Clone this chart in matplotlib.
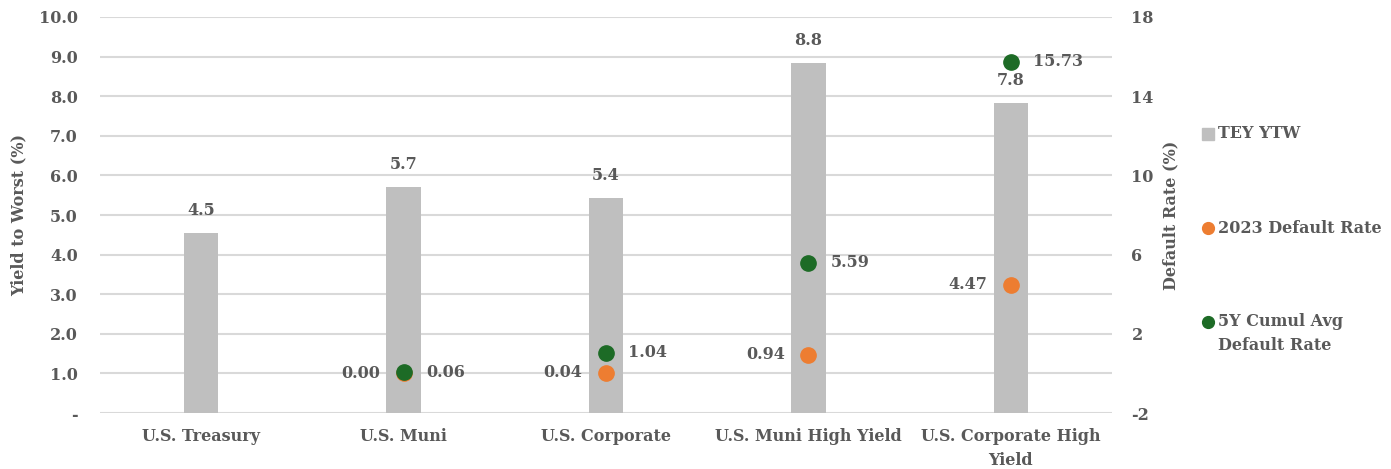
import numpy as np
import matplotlib.pyplot as plt
from matplotlib.lines import Line2D

# Data
categories = ['U.S. Treasury', 'U.S. Muni', 'U.S. Corporate', 'U.S. Muni High Yield', 'U.S. Corporate High\nYield']
tey_ytw = [4.54, 5.71, 5.43, 8.84, 7.84]
default_2023 = [np.nan, 0.00, 0.04, 0.94, 4.47]
default_5y = [np.nan, 0.06, 1.04, 5.59, 15.73]
legend_labels = ['TEY YTW', '2023 Default Rate', '5Y Cumul Avg\nDefault Rate']

GREY_TXT = '#595959'
BAR = '#bfbfbf'
ORANGE = '#ed7d31'
GREEN = '#1d6b26'
GRID = '#d9d9d9'
FS = 11.5

plt.rcParams['font.family'] = 'DejaVu Serif'
plt.rcParams['font.weight'] = 'bold'

W, H = 1391, 469
fig = plt.figure(figsize=(W / 100, H / 100), dpi=100)
ax = fig.add_axes([100 / W, 1 - 413 / H, 1012 / W, 396 / H])
ax2 = ax.twinx()

x = np.arange(len(categories))
ax.bar(x, tey_ytw, width=0.17, color=BAR, zorder=2)
for xi, v in zip(x, tey_ytw):
    ax.annotate(f'{v:.1f}', (xi, v), xytext=(0, 10), textcoords='offset points',
                ha='center', va='bottom', fontsize=FS, fontweight='bold', color=GREY_TXT)

ax.set_ylim(0, 10)
ax.set_xlim(-0.5, len(categories) - 0.5)
ax.set_yticks(np.arange(0, 11, 1))
ax.set_yticklabels(['-'] + [f'{v:.1f}' for v in np.arange(1, 11, 1)])
ax.grid(axis='y', color=GRID, lw=1.5, zorder=0)
ax.set_axisbelow(True)
ax.set_xticks(x)
ax.set_xticklabels(categories, linespacing=1.55)
ax.tick_params(length=0, labelsize=FS, labelcolor=GREY_TXT)
ax.tick_params(axis='x', pad=11)
ax.tick_params(axis='y', pad=16)
ax.set_ylabel('Yield to Worst (%)', fontsize=FS, fontweight='bold', color=GREY_TXT, labelpad=8)
for s in ax.spines.values():
    s.set_visible(False)

ax2.set_ylim(-2, 18)
ax2.set_yticks([-2, 2, 6, 10, 14, 18])
ax2.set_yticklabels(['-2', '2', '6', '10', '14', '18'])
ax2.tick_params(length=0, labelsize=FS, labelcolor=GREY_TXT, pad=14)
ax2.set_ylabel('Default Rate (%)', fontsize=FS, fontweight='bold', color=GREY_TXT, labelpad=6)
for s in ax2.spines.values():
    s.set_visible(False)

ax2.plot(x, default_2023, 'o', ms=11, color=ORANGE, ls='none', zorder=3)
ax2.plot(x, default_5y, 'o', ms=11, color=GREEN, ls='none', zorder=4)
for xi, v in zip(x, default_2023):
    if not np.isnan(v):
        ax2.annotate(f'{v:.2f}', (xi, v), xytext=(-17, 0), textcoords='offset points',
                     ha='right', va='center', fontsize=FS, fontweight='bold', color=GREY_TXT)
for xi, v in zip(x, default_5y):
    if not np.isnan(v):
        ax2.annotate(f'{v:.2f}', (xi, v), xytext=(16, 0), textcoords='offset points',
                     ha='left', va='center', fontsize=FS, fontweight='bold', color=GREY_TXT)

# legend, placed by hand
leg_markers = [('s', BAR, 8), ('o', ORANGE, 8.5), ('o', GREEN, 8.5)]
leg_y = [134, 228, 322]
for (m, c, ms), lab, yp in zip(leg_markers, legend_labels, leg_y):
    fig.add_artist(Line2D([1208 / W], [1 - yp / H], marker=m, color=c, ms=ms, ls='none',
                          transform=fig.transFigure))
    if '\n' in lab:
        fig.text(1218 / W, 1 - (yp - 9) / H, lab, ha='left', va='top',
                 fontsize=FS, fontweight='bold', color=GREY_TXT, linespacing=1.55)
    else:
        fig.text(1218 / W, 1 - yp / H, lab, ha='left', va='center',
                 fontsize=FS, fontweight='bold', color=GREY_TXT)

fig.savefig('out.png', dpi=100)
